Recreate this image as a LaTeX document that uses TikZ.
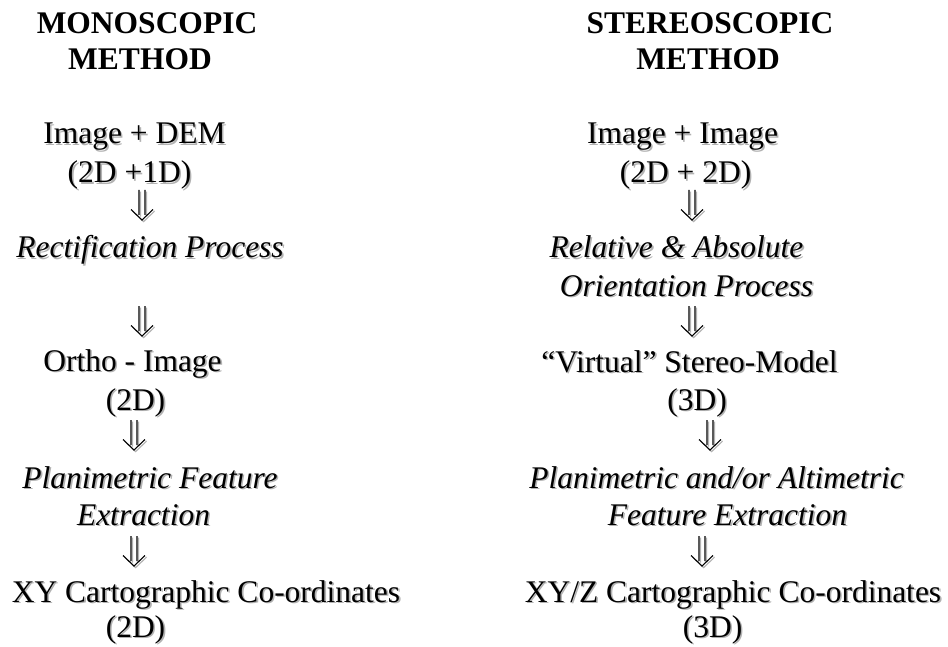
\documentclass[tikz,border=0pt]{standalone}
\usepackage{fontspec}
\setmainfont{Liberation Serif}
\newcommand\shd[1]{\leavevmode\rlap{\kern1.6pt\raisebox{-1.6pt}{\textcolor{black!30}{#1}}}#1}
\begin{document}
\begin{tikzpicture}[x=1pt,y=-1pt,
  every node/.style={inner sep=0pt,outer sep=0pt,font=\fontsize{31.5}{36}\selectfont},
  head/.style={anchor=base,font=\fontsize{31.5}{36}\selectfont\bfseries},
  txt/.style={anchor=base},
  itx/.style={anchor=base,font=\fontsize{31.5}{36}\selectfont\itshape},
  darrow/.pic={
    \foreach \dx/\col in {1.6/black!30,0/black}{
      \draw[\col,line width=1.1pt,line cap=butt,line join=miter,shift={(\dx,\dx)}]
        (-3,-15) -- (-3,10) (3,-15) -- (3,10)
        (-11,4.5) -- (0,15) -- (11,4.5);
    }
  }]
\useasboundingbox[fill=white] (0,0) rectangle (948,647);
% left column
\node[head] (lh1) at (147,34) {MONOSCOPIC};
\node[head] (lh2) at (140,70) {METHOD};
\node[txt] (l1) at (134.5,144) {\shd{Image + DEM}};
\node[txt] (l2) at (129.5,183) {\shd{(2D +1D)}};
\pic (la1) at (142,205) {darrow};
\node[itx] (l3) at (150,258) {\shd{Rectification Process}};
\pic (la2) at (142,321) {darrow};
\node[txt] (l4) at (132.5,371) {\shd{Ortho - Image}};
\node[txt] (l5) at (135.5,410) {\shd{(2D)}};
\pic (la3) at (134,435) {darrow};
\node[itx] (l6) at (150,488) {\shd{Planimetric Feature}};
\node[itx] (l7) at (143.5,525) {\shd{Extraction}};
\pic (la4) at (134,551) {darrow};
\node[txt] (l8) at (206,602) {\shd{XY Cartographic Co-ordinates}};
\node[txt] (l9) at (135.5,637) {\shd{(2D)}};
% right column
\node[head] (rh1) at (710,34) {STEREOSCOPIC};
\node[head] (rh2) at (708,70) {METHOD};
\node[txt] (r1) at (682.5,144) {\shd{Image + Image}};
\node[txt] (r2) at (685.5,183) {\shd{(2D + 2D)}};
\pic (ra1) at (692,205) {darrow};
\node[itx] (r3) at (676.5,258) {\shd{Relative \& Absolute}};
\node[itx] (r4) at (686.5,296) {\shd{Orientation Process}};
\pic (ra2) at (692,321) {darrow};
\node[txt] (r5) at (689.5,372) {\shd{``Virtual'' Stereo-Model}};
\node[txt] (r6) at (697,410) {\shd{(3D)}};
\pic (ra3) at (710,435) {darrow};
\node[itx] (r7) at (716.5,488) {\shd{Planimetric and/or Altimetric}};
\node[itx] (r8) at (727.5,525) {\shd{Feature Extraction}};
\pic (ra4) at (702,551) {darrow};
\node[txt] (r9) at (733,602) {\shd{XY/Z Cartographic Co-ordinates}};
\node[txt] (r10) at (712.5,637) {\shd{(3D)}};
\end{tikzpicture}
\end{document}
